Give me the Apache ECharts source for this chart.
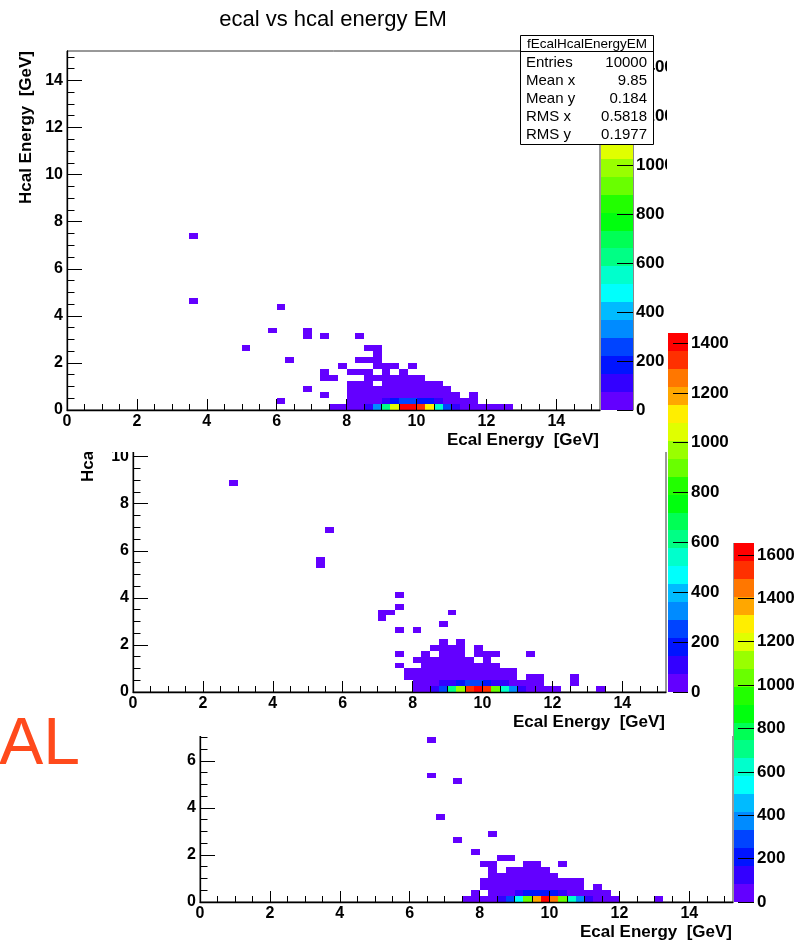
<!DOCTYPE html>
<html>
<head>
<meta charset="utf-8">
<script src="https://cdn.jsdelivr.net/npm/echarts@6/dist/echarts.min.js"></script>
<style>
html,body{margin:0;padding:0;background:#fff;}
#chart{width:795px;height:940px;}
</style>
</head>
<body>
<div id="chart"></div>
<script>
// ---------------- DATA ----------------
const chartTitle = 'ecal vs hcal energy EM';
const xAxisTitle = 'Ecal Energy  [GeV]';
const yAxisTitle = 'Hcal Energy  [GeV]';
const sideLabel = 'AL';
const binWidth = 0.25;
const axisMax = 15.25;
const axisMajorTicks = [0, 2, 4, 6, 8, 10, 12, 14];
const axisMinorTicks = [0, 0.5, 1, 1.5, 2, 2.5, 3, 3.5, 4, 4.5, 5, 5.5, 6, 6.5, 7, 7.5, 8, 8.5, 9, 9.5, 10, 10.5, 11, 11.5, 12, 12.5, 13, 13.5, 14, 14.5, 15];
const colorbarTicks = [0, 200, 400, 600, 800, 1000, 1200, 1400, 1600];
const nContours = 20;

const statsName = 'fEcalHcalEnergyEM';
const statsLabels = ['Entries', 'Mean x', 'Mean y', 'RMS x', 'RMS y'];
const statsValues = ['10000', '9.85', '0.184', '0.5818', '0.1977'];

// cells: [ecal bin low edge, hcal bin low edge, entries]
const emTopCells = [
  [3.5,7.25,1],[3.5,4.5,1],[6.0,4.25,1],[5.75,3.25,1],[6.75,3.25,1],
  [6.75,3.0,1],[7.25,3.0,1],[8.25,3.0,1],
  [5.0,2.5,1],[8.5,2.5,1],[8.75,2.5,2],
  [8.75,2.25,1],
  [6.25,2.0,1],[8.25,2.0,1],[8.5,2.0,2],[8.75,2.0,2],
  [7.75,1.75,1],[8.75,1.75,2],[9.0,1.75,3],[9.25,1.75,2],[9.75,1.75,1],
  [7.25,1.5,1],[8.0,1.5,1],[8.25,1.5,2],[8.5,1.5,2],[9.0,1.5,3],[9.5,1.5,2],
  [7.25,1.25,1],[7.5,1.25,1],[8.5,1.25,3],[8.75,1.25,4],[9.0,1.25,5],[9.25,1.25,6],[9.5,1.25,5],[9.75,1.25,4],[10.0,1.25,2],
  [8.0,1.0,2],[8.25,1.0,3],[8.5,1.0,4],[9.0,1.0,7],[9.25,1.0,9],[9.5,1.0,10],[9.75,1.0,8],[10.0,1.0,6],[10.25,1.0,4],[10.5,1.0,2],
  [6.75,0.75,1],[8.0,0.75,3],[8.25,0.75,4],[8.5,0.75,7],[8.75,0.75,10],[9.0,0.75,14],[9.25,0.75,18],[9.5,0.75,21],[9.75,0.75,19],[10.0,0.75,14],[10.25,0.75,9],[10.5,0.75,5],[10.75,0.75,2],
  [7.25,0.5,1],[8.0,0.5,4],[8.25,0.5,7],[8.5,0.5,13],[8.75,0.5,22],[9.0,0.5,32],[9.25,0.5,42],[9.5,0.5,48],[9.75,0.5,45],[10.0,0.5,36],[10.25,0.5,24],[10.5,0.5,13],[10.75,0.5,6],[11.0,0.5,2],[11.5,0.5,1],
  [6.0,0.25,1],[8.0,0.25,8],[8.25,0.25,15],[8.5,0.25,32],[8.75,0.25,58],[9.0,0.25,120],[9.25,0.25,170],[9.5,0.25,230],[9.75,0.25,245],[10.0,0.25,190],[10.25,0.25,160],[10.5,0.25,110],[10.75,0.25,65],[11.0,0.25,35],[11.25,0.25,15],[11.5,0.25,5],
  [7.5,0,1],[7.75,0,2],[8.0,0,10],[8.25,0,30],[8.5,0,100],[8.75,0,330],[9.0,0,620],[9.25,0,1050],[9.5,0,1420],[9.75,0,1465],[10.0,0,1340],[10.25,0,1110],[10.5,0,560],[10.75,0,290],[11.0,0,120],[11.25,0,50],[11.5,0,20],[11.75,0,8],[12.0,0,4],[12.25,0,2],[12.5,0,1]
];

const emMidCells = [
  [2.75,8.75,1],[5.5,6.75,1],[5.25,5.5,1],[5.25,5.25,1],[7.5,4.0,1],[7.5,3.5,1],
  [7.0,3.25,1],[7.25,3.25,1],[9.0,3.25,1],[7.0,3.0,1],[8.75,2.75,1],[7.5,2.5,1],[8.0,2.5,1],
  [8.75,2.0,1],[9.25,2.0,1],
  [8.5,1.75,1],[8.75,1.75,2],[9.0,1.75,2],[9.25,1.75,1],[9.75,1.75,1],
  [7.5,1.5,1],[8.25,1.5,1],[8.75,1.5,2],[9.0,1.5,3],[9.25,1.5,2],[9.75,1.5,2],[10.0,1.5,1],[10.25,1.5,1],[11.25,1.5,1],
  [8.0,1.25,1],[8.25,1.25,2],[8.5,1.25,3],[8.75,1.25,4],[9.0,1.25,5],[9.25,1.25,5],[9.5,1.25,4],[10.0,1.25,2],
  [7.5,1.0,1],[8.25,1.0,3],[8.5,1.0,5],[8.75,1.0,7],[9.0,1.0,9],[9.25,1.0,10],[9.5,1.0,9],[9.75,1.0,7],[10.0,1.0,5],[10.25,1.0,3],
  [7.75,0.75,1],[8.0,0.75,3],[8.25,0.75,5],[8.5,0.75,8],[8.75,0.75,12],[9.0,0.75,16],[9.25,0.75,20],[9.5,0.75,21],[9.75,0.75,18],[10.0,0.75,14],[10.25,0.75,9],[10.5,0.75,5],[10.75,0.75,2],
  [7.75,0.5,1],[8.0,0.5,5],[8.25,0.5,9],[8.5,0.5,16],[8.75,0.5,26],[9.0,0.5,36],[9.25,0.5,46],[9.5,0.5,50],[9.75,0.5,47],[10.0,0.5,38],[10.25,0.5,26],[10.5,0.5,15],[10.75,0.5,7],[11.25,0.5,2],[11.5,0.5,1],[12.5,0.5,1],
  [8.0,0.25,8],[8.25,0.25,18],[8.5,0.25,40],[8.75,0.25,100],[9.0,0.25,120],[9.25,0.25,170],[9.5,0.25,230],[9.75,0.25,250],[10.0,0.25,200],[10.25,0.25,130],[10.5,0.25,90],[10.75,0.25,55],[11.0,0.25,30],[11.25,0.25,12],[11.5,0.25,4],[12.5,0.25,1],
  [8.0,0,8],[8.25,0,25],[8.5,0,110],[8.75,0,270],[9.0,0,620],[9.25,0,960],[9.5,0,1340],[9.75,0,1440],[10.0,0,1310],[10.25,0,910],[10.5,0,540],[10.75,0,320],[11.0,0,100],[11.25,0,40],[11.5,0,15],[11.75,0,5],[12.0,0,2],[13.25,0,1]
];

const emBotCells = [
  [6.5,6.75,1],[6.5,5.25,1],[7.25,5.0,1],[6.75,3.5,1],[8.25,2.75,1],[7.25,2.5,1],[7.75,2.0,1],
  [8.5,1.75,1],[8.75,1.75,1],
  [8.0,1.5,1],[8.25,1.5,1],[9.25,1.5,2],[9.5,1.5,1],[10.25,1.5,1],
  [8.25,1.25,1],[8.75,1.25,2],[9.0,1.25,3],[9.25,1.25,4],[9.5,1.25,3],[9.75,1.25,2],
  [8.25,1.0,2],[8.5,1.0,3],[8.75,1.0,5],[9.0,1.0,7],[9.25,1.0,9],[9.5,1.0,9],[9.75,1.0,6],[10.0,1.0,3],
  [8.0,0.75,2],[8.25,0.75,4],[8.5,0.75,7],[8.75,0.75,11],[9.0,0.75,15],[9.25,0.75,19],[9.5,0.75,20],[9.75,0.75,17],[10.0,0.75,12],[10.25,0.75,8],[10.5,0.75,4],[10.75,0.75,2],
  [8.0,0.5,4],[8.25,0.5,8],[8.5,0.5,15],[8.75,0.5,24],[9.0,0.5,34],[9.25,0.5,44],[9.5,0.5,49],[9.75,0.5,46],[10.0,0.5,36],[10.25,0.5,25],[10.5,0.5,14],[10.75,0.5,6],[11.25,0.5,1],
  [7.75,0.25,1],[8.25,0.25,15],[8.5,0.25,35],[8.75,0.25,70],[9.0,0.25,120],[9.25,0.25,180],[9.5,0.25,200],[9.75,0.25,215],[10.0,0.25,170],[10.25,0.25,110],[10.5,0.25,75],[10.75,0.25,45],[11.0,0.25,25],[11.25,0.25,10],[11.5,0.25,3],
  [7.5,0,2],[7.75,0,3],[8.0,0,12],[8.25,0,40],[8.5,0,120],[8.75,0,300],[9.0,0,540],[9.25,0,1030],[9.5,0,1370],[9.75,0,1655],[10.0,0,1450],[10.25,0,1010],[10.5,0,610],[10.75,0,350],[11.0,0,110],[11.25,0,45],[11.5,0,15],[11.75,0,5],[13.0,0,1]
];

// ---------------- STYLE ----------------
const palette = ['#6300FF','#3300FF','#0014FF','#0044FF','#008BFF','#00BBFF','#00FFFC','#00FFCC','#00FF85','#00FF55',
                 '#00FF0E','#22FF00','#69FF00','#99FF00','#E0FF00','#FFEE00','#FFA700','#FF7700','#FF3000','#FF0000'];
const FONT = '"Liberation Sans", Arial, Helvetica, sans-serif';

// panels: front (top) to back (bottom)
const panels = [
  { cells: emTopCells, plot: {left: 67, top: 51, width: 533, height: 359}, bar: {left: 601, width: 32, tick: 16, border: true},
    z: 21, yTitleX: 26.5, yTitleY: 51, cover: {x: 0, y: 0, width: 667, height: 452, z: 20} },
  { cells: emMidCells, plot: {left: 133, top: 333, width: 533, height: 359}, bar: {left: 668, width: 20, tick: 15, border: false},
    z: 11, yTitleX: 88, yTitleY: 329, cover: {x: 0, y: 300, width: 733, height: 436, z: 10} },
  { cells: emBotCells, plot: {left: 200, top: 543, width: 533, height: 359}, bar: {left: 734, width: 20, tick: 16, border: false},
    z: 1, yTitleX: 156, yTitleY: 543, cover: null }
];

function levelColor(v, zMax) {
  let k = Math.floor(v * nContours / zMax);
  if (k >= nContours) k = nContours - 1;
  if (k < 0) k = 0;
  return palette[k];
}

const tickLabelStyle = {fontFamily: FONT, fontWeight: 'bold', fontSize: 16, color: '#000'};

function plotAxis(dim, gridIndex, z, major) {
  const isX = dim === 'x';
  return {
    gridIndex: gridIndex, type: 'value', min: 0, max: axisMax,
    interval: major ? 2 : 0.5,
    position: isX ? 'bottom' : 'left',
    z: z,
    axisLine: {show: major, onZero: false, lineStyle: {color: '#000', width: 1.3}},
    axisTick: {show: true, inside: true, length: major ? (isX ? 11 : 15) : (isX ? 6 : 7.5),
               customValues: major ? axisMajorTicks : axisMinorTicks,
               lineStyle: {color: '#000', width: 1}},
    axisLabel: major ? Object.assign({show: true, customValues: axisMajorTicks, margin: 4,
                                      formatter: function (v) { return String(v); }}, tickLabelStyle) : {show: false},
    splitLine: {show: false}, minorTick: {show: false}, minorSplitLine: {show: false},
    axisPointer: {show: false}
  };
}

const option = {
  animation: false,
  backgroundColor: '#ffffff',
  grid: [], xAxis: [], yAxis: [], series: [],
  graphic: {elements: []}
};

panels.forEach(function (P) {
  const zMax = Math.max.apply(null, P.cells.map(function (c) { return c[2]; }));
  const z = P.z;
  if (P.cover) {
    option.graphic.elements.push({type: 'rect', z: P.cover.z, silent: true,
      shape: {x: P.cover.x, y: P.cover.y, width: P.cover.width, height: P.cover.height},
      style: {fill: '#ffffff'}});
  }
  const gPlot = option.grid.length;
  option.grid.push({left: P.plot.left, top: P.plot.top, width: P.plot.width, height: P.plot.height,
    show: true, borderColor: '#333', borderWidth: 1, backgroundColor: 'rgba(0,0,0,0)', z: z,
    containLabel: false, outerBoundsMode: 'none'});
  const gBar = option.grid.length;
  option.grid.push({left: P.bar.left, top: P.plot.top, width: P.bar.width, height: P.plot.height, z: z,
    containLabel: false, outerBoundsMode: 'none'});

  const xMain = option.xAxis.length;
  option.xAxis.push(plotAxis('x', gPlot, z + 2, true));
  option.xAxis.push(plotAxis('x', gPlot, z + 2, false));
  const xBar = option.xAxis.length;
  option.xAxis.push({gridIndex: gBar, type: 'value', min: 0, max: 1, show: false});

  const yMain = option.yAxis.length;
  option.yAxis.push(plotAxis('y', gPlot, z + 2, true));
  option.yAxis.push(plotAxis('y', gPlot, z + 2, false));
  const yBar = option.yAxis.length;
  const barTicks = colorbarTicks.filter(function (t) { return t <= zMax; });
  option.yAxis.push({
    gridIndex: gBar, type: 'value', min: 0, max: zMax, interval: 200, position: 'right', z: z + 2,
    axisLine: {show: P.bar.border, onZero: false, lineStyle: {color: '#888', width: 1}},
    axisTick: {show: true, inside: true, length: P.bar.tick, customValues: barTicks, lineStyle: {color: '#000', width: 1}},
    axisLabel: {show: true, customValues: barTicks, margin: 3, fontFamily: FONT, fontWeight: 'bold', fontSize: 17, color: '#000',
                formatter: function (v) { return String(v); }},
    splitLine: {show: false}, axisPointer: {show: false}
  });

  // 2D histogram cells
  option.series.push({
    type: 'custom', coordinateSystem: 'cartesian2d', xAxisIndex: xMain, yAxisIndex: yMain,
    z: z + 1, silent: true, clip: true,
    data: P.cells,
    encode: {x: 0, y: 1},
    renderItem: function (params, api) {
      const x = api.value(0), y = api.value(1), v = api.value(2);
      const p0 = api.coord([x, y]);
      const p1 = api.coord([x + binWidth, y + binWidth]);
      const x0 = Math.round(p0[0]), x1 = Math.round(p1[0]);
      const y0 = Math.round(p1[1]), y1 = Math.round(p0[1]);
      return {type: 'rect', shape: {x: x0, y: y0, width: x1 - x0, height: y1 - y0},
              style: {fill: levelColor(v, zMax)}};
    }
  });

  // palette (colour scale)
  const levels = [];
  for (let k = 0; k < nContours; k++) levels.push([k * zMax / nContours, (k + 1) * zMax / nContours, k]);
  option.series.push({
    type: 'custom', coordinateSystem: 'cartesian2d', xAxisIndex: xBar, yAxisIndex: yBar,
    z: z + 1, silent: true,
    data: levels,
    encode: {y: [0, 1]},
    renderItem: function (params, api) {
      const lo = api.value(0), hi = api.value(1), k = api.value(2);
      const p0 = api.coord([0, lo]);
      const p1 = api.coord([1, hi]);
      const yTop = Math.round(p1[1]), yBot = Math.round(p0[1]);
      return {type: 'rect', shape: {x: p0[0], y: yTop, width: p1[0] - p0[0], height: yBot - yTop},
              style: {fill: palette[k]}};
    }
  });

  // axis titles
  option.graphic.elements.push({type: 'text', z: z, silent: true,
    x: P.plot.left + P.plot.width - 1, y: P.plot.top + P.plot.height + 30,
    style: {text: xAxisTitle, font: 'bold 17px ' + FONT, fill: '#000',
            align: 'right', textAlign: 'right', verticalAlign: 'middle', textVerticalAlign: 'middle'}});
  option.graphic.elements.push({type: 'text', z: z, silent: true,
    x: P.yTitleX, y: P.yTitleY, rotation: Math.PI / 2,
    style: {text: yAxisTitle, font: 'bold 17px ' + FONT, fill: '#000',
            align: 'right', textAlign: 'right', verticalAlign: 'middle', textVerticalAlign: 'middle'}});
});

// the front picture ends at x = 667: blank area to its right, above the middle colour scale
option.graphic.elements.push({type: 'rect', z: 24, silent: true,
  shape: {x: 667, y: 0, width: 128, height: 331}, style: {fill: '#ffffff'}});

// title of the front canvas
option.graphic.elements.push({type: 'text', z: 21, silent: true, x: 333, y: 20,
  style: {text: chartTitle, font: '22px ' + FONT, fill: '#000',
          align: 'center', textAlign: 'center', verticalAlign: 'middle', textVerticalAlign: 'middle'}});

// statistics box
const sb = {x: 520.5, y: 35.5, w: 133, h: 109, header: 16};
option.graphic.elements.push({type: 'rect', z: 25, silent: true,
  shape: {x: sb.x, y: sb.y, width: sb.w, height: sb.h}, style: {fill: '#fff', stroke: '#000', lineWidth: 1}});
option.graphic.elements.push({type: 'line', z: 25, silent: true,
  shape: {x1: sb.x, y1: sb.y + sb.header, x2: sb.x + sb.w, y2: sb.y + sb.header}, style: {stroke: '#000', lineWidth: 1}});
option.graphic.elements.push({type: 'text', z: 26, silent: true, x: sb.x + sb.w / 2, y: sb.y + 8.5,
  style: {text: statsName, font: '13.5px ' + FONT, fill: '#000',
          align: 'center', textAlign: 'center', verticalAlign: 'middle', textVerticalAlign: 'middle'}});
statsLabels.forEach(function (lab, i) {
  const yy = 62.5 + i * 18.1;
  option.graphic.elements.push({type: 'text', z: 26, silent: true, x: 526, y: yy,
    style: {text: lab, font: '15px ' + FONT, fill: '#000',
            align: 'left', textAlign: 'left', verticalAlign: 'middle', textVerticalAlign: 'middle'}});
  option.graphic.elements.push({type: 'text', z: 26, silent: true, x: 647, y: yy,
    style: {text: statsValues[i], font: '15px ' + FONT, fill: '#000',
            align: 'right', textAlign: 'right', verticalAlign: 'middle', textVerticalAlign: 'middle'}});
});

// slide text partially visible at the left edge
option.graphic.elements.push({type: 'text', z: 30, silent: true, x: 80, y: 746,
  style: {text: sideLabel, font: '66px ' + FONT, fill: '#FF4A1C',
          align: 'right', textAlign: 'right', verticalAlign: 'middle', textVerticalAlign: 'middle'}});

const chart = echarts.init(document.getElementById('chart'), null, {renderer: 'canvas', width: 795, height: 940});
chart.setOption(option);
</script>
</body>
</html>
